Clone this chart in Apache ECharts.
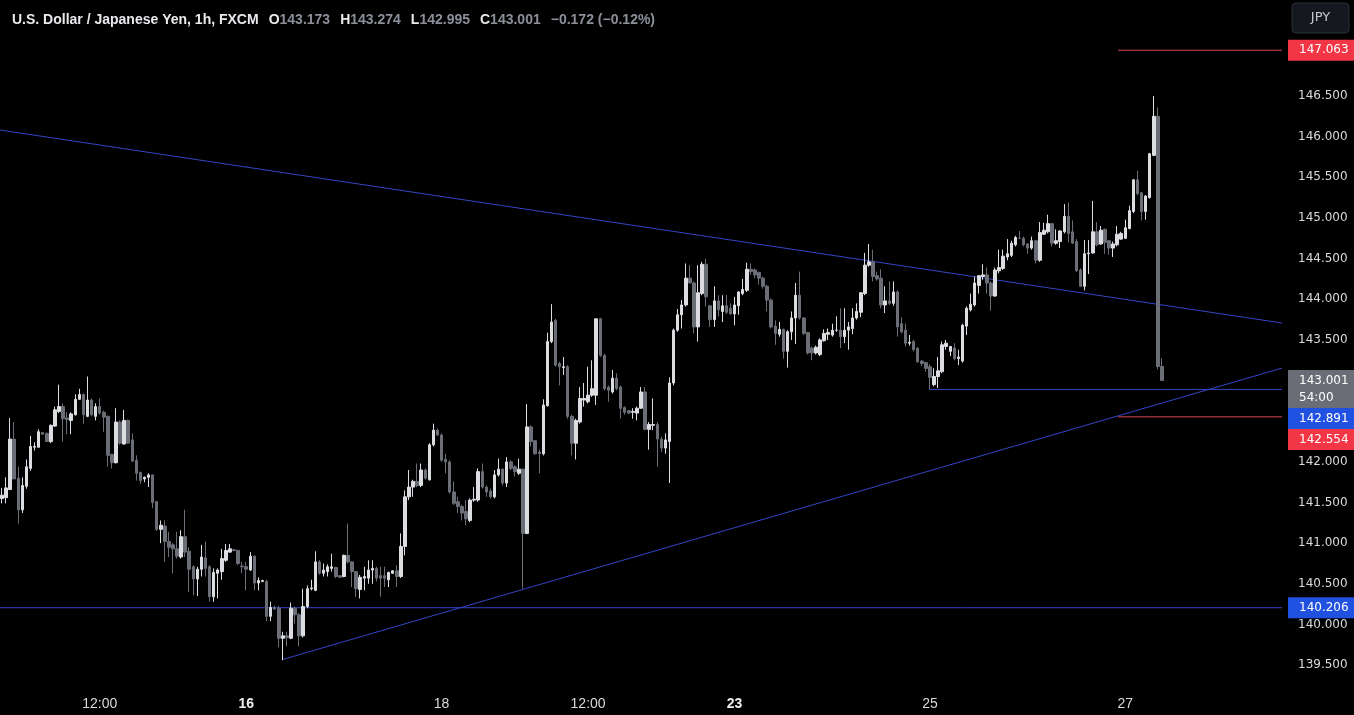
<!DOCTYPE html>
<html><head><meta charset="utf-8">
<script src="https://cdn.jsdelivr.net/npm/echarts@6/dist/echarts.min.js"></script>
<style>html,body{margin:0;padding:0;background:#000;}#c{width:1354px;height:715px;}</style>
</head><body><div id="c"></div>
<script>
// ---- data (USD/JPY, 1h, FXCM) ----
const opens = [141.55,141.56,141.66,142.28,141.80,141.41,141.70,141.92,142.18,142.18,142.36,142.35,142.25,142.44,142.62,142.68,142.54,142.51,142.58,142.77,142.83,142.56,142.76,142.56,142.68,142.61,142.56,142.09,141.99,142.49,142.22,142.51,142.27,142.02,141.87,141.79,141.81,141.84,141.51,141.17,141.21,141.02,140.98,140.93,140.83,141.08,140.90,140.71,140.56,140.68,140.82,140.71,140.34,140.63,140.65,140.79,140.89,140.92,140.91,140.72,140.71,140.67,140.84,140.51,140.53,140.53,140.10,140.21,140.20,139.83,139.86,139.83,140.20,140.12,139.86,140.22,140.44,140.42,140.77,140.63,140.65,140.69,140.70,140.60,140.59,140.85,140.77,140.65,140.43,140.57,140.57,140.67,140.69,140.60,140.60,140.55,140.63,140.66,140.59,140.96,141.57,141.69,141.76,141.71,141.90,141.78,142.21,142.39,142.33,142.03,142.00,141.63,141.51,141.45,141.39,141.28,141.53,141.53,141.88,141.69,141.64,141.57,141.84,141.91,141.74,142.00,141.94,141.86,141.91,141.12,142.43,142.26,142.12,142.10,142.69,143.48,143.74,143.21,143.16,143.17,142.56,142.23,142.49,142.76,142.74,142.82,142.82,143.76,143.31,142.92,142.86,143.03,142.92,142.67,142.63,142.61,142.60,142.66,142.86,142.40,142.45,142.46,142.28,142.17,142.25,142.97,143.62,143.81,143.93,144.26,144.20,143.66,144.07,144.43,143.92,143.75,143.98,143.85,143.92,143.89,143.82,143.92,144.07,144.11,144.37,144.36,144.33,144.26,144.16,143.99,143.67,143.57,143.63,143.36,143.60,143.77,144.05,143.77,143.59,143.40,143.34,143.32,143.49,143.57,143.56,143.62,143.62,143.54,143.62,143.64,143.77,143.84,144.07,144.42,144.46,144.29,144.26,143.93,143.98,143.95,144.09,143.70,143.62,143.46,143.48,143.40,143.24,143.22,143.17,142.95,143.05,143.11,143.42,143.36,143.40,143.27,143.24,143.67,143.87,143.93,144.17,144.28,144.30,144.20,144.04,144.35,144.38,144.52,144.54,144.67,144.75,144.75,144.68,144.63,144.72,144.48,144.80,144.83,144.93,144.69,144.71,144.83,145.02,144.83,144.71,144.36,144.16,144.56,144.57,144.83,144.68,144.86,144.72,144.63,144.67,144.74,144.75,144.87,145.08,145.47,145.31,145.08,145.25,145.77,146.25,143.173];
const highs = [141.68,141.81,142.54,142.49,141.94,141.81,142.03,142.32,142.24,142.40,142.37,142.36,142.46,142.68,142.95,142.72,142.61,142.61,142.83,142.90,142.84,143.05,142.78,142.72,142.78,142.63,142.57,142.10,142.66,142.51,142.64,142.52,142.35,142.08,141.88,141.82,141.86,141.84,141.52,141.28,141.28,141.14,141.00,141.14,141.16,141.41,140.95,140.73,140.71,140.98,141.02,140.73,140.69,140.69,140.93,140.99,140.99,140.93,140.92,140.77,140.77,140.89,140.85,140.58,140.55,140.55,140.28,140.23,140.23,139.91,139.91,140.27,140.22,140.14,140.44,140.48,140.55,140.90,140.79,140.75,140.74,140.87,140.71,140.61,140.86,141.24,140.78,140.66,140.61,140.71,140.79,140.79,140.71,140.71,140.71,140.65,140.67,140.73,141.12,141.65,141.90,141.78,141.98,141.98,141.92,142.23,142.47,142.41,142.35,142.10,142.02,141.76,141.57,141.47,141.53,141.55,141.69,141.92,141.98,141.71,141.67,141.90,142.04,141.92,142.06,142.02,141.96,142.04,141.92,142.71,142.45,142.27,142.15,142.77,143.59,143.94,143.76,143.23,143.29,143.19,142.58,142.53,142.92,142.97,143.17,143.25,143.76,143.77,143.33,142.94,143.13,143.09,142.94,142.68,142.64,142.66,142.68,142.92,142.92,142.49,142.78,142.49,142.31,142.35,143.04,143.64,143.88,143.99,144.44,144.42,144.22,144.42,144.46,144.50,143.93,144.16,144.05,144.05,144.05,143.95,144.03,144.10,144.25,144.45,144.44,144.38,144.34,144.28,144.18,144.01,143.74,143.72,143.64,143.62,143.85,144.20,144.34,143.78,143.60,143.42,143.43,143.52,143.63,143.64,143.70,143.79,143.89,143.89,143.72,143.89,143.95,144.09,144.57,144.68,144.61,144.34,144.37,144.16,144.22,144.22,144.11,143.78,143.70,143.56,143.50,143.41,143.25,143.23,143.20,143.15,143.29,143.48,143.50,143.42,143.46,143.38,143.70,143.91,144.07,144.28,144.30,144.43,144.39,144.22,144.39,144.61,144.61,144.74,144.72,144.78,144.84,144.77,144.69,144.77,144.73,144.95,144.94,145.04,144.94,144.86,144.85,145.17,145.19,144.97,144.74,144.38,144.73,144.73,145.21,144.95,144.90,144.87,144.73,144.71,144.90,144.83,144.98,145.15,145.47,145.58,145.32,145.28,145.80,146.50,146.36,143.274];
const lows = [141.49,141.49,141.66,141.79,141.24,141.37,141.67,141.89,142.14,142.18,142.33,142.25,142.23,142.43,142.60,142.25,142.34,142.34,142.57,142.76,142.47,142.55,142.56,142.51,142.58,142.37,141.94,141.92,141.98,142.21,142.21,142.22,142.00,141.77,141.73,141.75,141.69,141.43,141.15,141.00,140.77,140.83,140.63,140.81,140.81,140.83,140.40,140.36,140.35,140.59,140.59,140.28,140.28,140.32,140.55,140.77,140.88,140.90,140.73,140.63,140.42,140.66,140.42,140.42,140.52,140.04,140.04,140.18,139.72,139.56,139.73,139.82,140.01,139.73,139.84,140.20,140.42,140.41,140.61,140.59,140.59,140.65,140.57,140.57,140.58,140.75,140.46,140.34,140.32,140.42,140.50,140.50,140.53,140.34,140.46,140.46,140.62,140.46,140.57,140.85,141.53,141.57,141.69,141.69,141.78,141.77,142.19,142.32,142.00,141.86,141.61,141.47,141.37,141.28,141.22,141.26,141.51,141.51,141.67,141.57,141.55,141.55,141.82,141.71,141.69,141.90,141.82,141.84,140.44,141.11,142.19,142.09,141.86,142.08,142.68,143.46,143.17,142.94,143.07,142.53,142.08,142.03,142.47,142.68,142.72,142.80,142.70,143.29,142.88,142.74,142.84,142.88,142.53,142.58,142.59,142.53,142.51,142.65,142.39,142.15,142.39,141.94,142.12,142.10,141.74,142.94,143.60,143.64,143.91,144.20,143.58,143.48,144.05,143.91,143.66,143.66,143.79,143.72,143.82,143.81,143.68,143.81,144.05,144.09,144.30,144.26,144.18,144.13,143.85,143.64,143.44,143.54,143.27,143.16,143.50,143.45,143.75,143.56,143.32,143.25,143.32,143.30,143.48,143.50,143.54,143.60,143.40,143.46,143.38,143.57,143.75,143.78,144.05,144.40,144.22,144.23,143.89,143.83,143.93,143.92,143.54,143.58,143.42,143.43,143.36,143.22,143.18,143.11,142.89,142.93,142.91,143.09,143.38,143.30,143.25,143.19,143.22,143.56,143.85,143.91,144.07,144.24,144.07,143.86,144.03,144.32,144.36,144.48,144.52,144.65,144.74,144.65,144.56,144.61,144.44,144.46,144.79,144.81,144.65,144.67,144.63,144.81,144.70,144.68,144.34,144.15,144.11,144.31,144.56,144.65,144.67,144.56,144.55,144.52,144.65,144.73,144.74,144.86,145.06,145.28,144.97,144.98,145.24,145.76,143.14,142.995];
const closes = [141.59,141.68,142.28,141.79,141.41,141.71,141.94,142.19,142.19,142.37,142.34,142.25,142.45,142.64,142.68,142.53,142.52,142.59,142.77,142.83,142.58,142.76,142.58,142.68,142.60,142.55,142.08,141.99,142.49,142.23,142.51,142.23,142.01,141.86,141.77,141.81,141.84,141.50,141.17,141.22,141.02,140.95,140.93,140.84,141.08,140.89,140.68,140.56,140.68,140.83,140.69,140.34,140.64,140.67,140.81,140.91,140.93,140.91,140.75,140.71,140.68,140.84,140.51,140.54,140.54,140.10,140.21,140.19,139.83,139.86,139.84,140.20,140.12,139.86,140.22,140.44,140.45,140.77,140.63,140.67,140.71,140.71,140.59,140.58,140.85,140.77,140.65,140.44,140.58,140.59,140.67,140.69,140.57,140.57,140.57,140.64,140.66,140.59,140.96,141.57,141.69,141.76,141.71,141.90,141.80,142.21,142.39,142.33,142.02,142.00,141.63,141.49,141.45,141.37,141.30,141.53,141.54,141.88,141.69,141.63,141.57,141.84,141.91,141.74,142.00,141.92,141.88,141.91,141.12,142.43,142.25,142.10,142.10,142.70,143.48,143.72,143.19,143.17,143.17,142.56,142.23,142.51,142.78,142.78,142.82,142.90,143.76,143.31,142.90,142.88,143.03,142.90,142.66,142.61,142.60,142.62,142.66,142.86,142.40,142.46,142.46,142.28,142.17,142.27,142.97,143.62,143.81,143.93,144.26,144.20,143.66,144.08,144.43,144.03,143.75,143.98,143.87,143.92,143.84,143.82,143.93,144.09,144.12,144.37,144.34,144.30,144.26,144.16,143.99,143.66,143.58,143.63,143.36,143.60,143.77,144.05,143.77,143.58,143.34,143.34,143.41,143.50,143.58,143.59,143.62,143.62,143.54,143.62,143.66,143.77,143.85,144.08,144.42,144.46,144.28,144.25,143.93,143.98,143.95,144.09,143.66,143.60,143.46,143.47,143.38,143.23,143.21,143.15,143.04,143.05,143.12,143.44,143.46,143.42,143.27,143.29,143.68,143.89,143.94,144.20,144.29,144.30,144.20,144.04,144.36,144.39,144.53,144.56,144.69,144.76,144.75,144.67,144.63,144.72,144.48,144.82,144.85,144.93,144.69,144.72,144.84,145.02,144.81,144.69,144.35,144.16,144.56,144.57,144.83,144.67,144.85,144.70,144.63,144.68,144.80,144.81,144.88,145.09,145.47,145.30,145.08,145.27,145.79,146.25,143.173,143.001];

const firstBarUTC = Date.UTC(2024, 8, 11, 12);   // first visible hourly bar
const emptySlotsRight = 29;                       // blank space right of the last bar
const tickLabels = {
  '2024-09-12 12:00': '12:00', '2024-09-16 00:00': '16', '2024-09-18 00:00': '18',
  '2024-09-19 12:00': '12:00', '2024-09-23 00:00': '23', '2024-09-25 00:00': '25',
  '2024-09-27 00:00': '27'
};
const boldTickLabels = ['16', '23'];
const priceTicks = [139.5,140.0,140.5,141.0,141.5,142.0,142.5,143.0,143.5,144.0,144.5,145.0,145.5,146.0,146.5];
const priceMin = 139.231, priceMax = 147.681;

// drawings: [slot, price] endpoints
const trendDown = [[-0.5, 146.082], [314.5, 143.708]];
const trendUp = [[69, 139.57], [314.5, 143.154]];
const supportLow = [[-0.5, 140.206], [314.5, 140.206]];
const supportMid = [[228, 142.891], [314.5, 142.891]];
const targetHigh = [[274.2, 147.063], [314.5, 147.063]];
const targetLow = [[274.2, 142.554], [314.5, 142.554]];

const priceTags = [
  { value: 147.063, color: '#f23645' },
  { value: 143.001, color: '#6a6d76', sub: '54:00' },
  { value: 142.891, color: '#2151e0' },
  { value: 142.554, color: '#f23645' },
  { value: 140.206, color: '#2151e0' }
];
const symbolTitle = 'U.S. Dollar / Japanese Yen, 1h, FXCM';

// ---- build ----
function pad(n){ return (n < 10 ? '0' : '') + n; }
const totalSlots = opens.length + emptySlotsRight;
const categories = [];
for (let t = firstBarUTC; categories.length < totalSlots; t += 3600000) {
  const d = new Date(t), wd = d.getUTCDay(), h = d.getUTCHours();
  const closed = (wd === 5 && h >= 21) || wd === 6 || (wd === 0 && h < 21);
  if (closed) continue;
  categories.push(d.getUTCFullYear() + '-' + pad(d.getUTCMonth() + 1) + '-' + pad(d.getUTCDate()) + ' ' + pad(h) + ':00');
}
const candles = opens.map((o, i) => [o, closes[i], lows[i], highs[i]]);
const n = opens.length;
const lastO = opens[n-1], lastH = highs[n-1], lastL = lows[n-1], lastC = closes[n-1];
const chg = lastC - lastO;
const pct = chg / lastO * 100;
const sgn = v => (v < 0 ? '\u2212' : '+');

const UI = '"Liberation Sans", Arial, sans-serif';
const AX = '"DejaVu Sans", Verdana, sans-serif';

function lineSeries(data, color) {
  return { type: 'line', xAxisIndex: 1, yAxisIndex: 0, data: data, symbol: 'none', silent: true,
    animation: false, lineStyle: { color: color, width: 1 }, z: 3 };
}

const chart = echarts.init(document.getElementById('c'), null, { renderer: 'canvas' });
chart.setOption({
  backgroundColor: '#000000',
  animation: false,
  title: {
    left: 7, top: 6,
    text: '{t|' + symbolTitle + '}  {k|O}{v|' + lastO.toFixed(3) + '}  {k|H}{v|' + lastH.toFixed(3) + '}  {k|L}{v|' + lastL.toFixed(3) + '}  {k|C}{v|' + lastC.toFixed(3) + '}  {v|' + sgn(chg) + Math.abs(chg).toFixed(3) + ' (' + sgn(pct) + Math.abs(pct).toFixed(2) + '%)}',
    textStyle: { rich: {
      t: { color: '#e8e9ec', fontSize: 14, fontFamily: UI },
      k: { color: '#e8e9ec', fontSize: 14, fontFamily: UI },
      v: { color: '#8c8f99', fontSize: 14, fontFamily: UI }
    } }
  },
  grid: { left: 0, right: 72, top: 0, bottom: 28, containLabel: false },
  xAxis: [{
    type: 'category', data: categories, boundaryGap: true,
    axisLine: { show: false }, axisTick: { show: false }, splitLine: { show: false },
    axisLabel: {
      interval: (i, v) => tickLabels[v] !== undefined,
      formatter: v => { const s = tickLabels[v]; return boldTickLabels.indexOf(s) >= 0 ? '{b|' + s + '}' : s; },
      color: '#d8d9dd', fontSize: 14, fontFamily: UI, margin: 10,
      rich: { b: { fontWeight: 'bold', color: '#eeeeee', fontSize: 14, fontFamily: UI } }
    }
  }, {
    type: 'value', min: -0.5, max: totalSlots - 0.5, show: false
  }],
  yAxis: [{
    type: 'value', position: 'right', min: priceMin, max: priceMax, scale: true,
    axisLine: { show: false }, axisTick: { show: false }, splitLine: { show: false },
    axisLabel: { customValues: priceTicks, formatter: v => v.toFixed(3), color: '#d8d9dd',
      fontSize: 12, fontFamily: AX, margin: 16, align: 'left' }
  }],
  series: [
    lineSeries(trendDown, '#3446c4'),
    lineSeries(trendUp, '#3446c4'),
    lineSeries(supportLow, '#3446c4'),
    lineSeries(supportMid, '#3446c4'),
    lineSeries(targetHigh, '#d8424c'),
    lineSeries(targetLow, '#d8424c'),
    {
      type: 'candlestick', xAxisIndex: 0, yAxisIndex: 0, data: candles, barWidth: 3, z: 5,
      itemStyle: { color: '#dcdde1', color0: '#6b6e77', borderColor: '#dcdde1', borderColor0: '#6b6e77', borderWidth: 1 }
    }
  ]
});

// price tags on the right scale, stacked so they never overlap
const tags = [];
let prevBottom = -Infinity;
priceTags.forEach(p => {
  const y = chart.convertToPixel({ yAxisIndex: 0 }, p.value);
  const h = p.sub ? 38 : 21;
  let top = y - 10.5;
  if (top < prevBottom) top = prevBottom;
  prevBottom = top + h;
  tags.push({ type: 'rect', shape: { x: 1288, y: top, width: 66, height: h }, style: { fill: p.color }, z: 50 });
  tags.push({ type: 'text', x: 1299, y: top + 10.5, style: { text: p.value.toFixed(3), fill: '#ffffff', font: '12px ' + AX, textVerticalAlign: 'middle' }, z: 51 });
  if (p.sub) tags.push({ type: 'text', x: 1299, y: top + 28, style: { text: p.sub, fill: '#ffffff', font: '12px ' + AX, textVerticalAlign: 'middle' }, z: 51 });
});
tags.push({ type: 'rect', shape: { x: 1292, y: 3, width: 57, height: 30, r: 4 }, style: { fill: '#15181f', stroke: '#2a2e39', lineWidth: 1 }, z: 50 });
tags.push({ type: 'text', x: 1320.5, y: 18, style: { text: 'JPY', fill: '#c8cad0', font: '13px ' + AX, textAlign: 'center', textVerticalAlign: 'middle' }, z: 51 });
chart.setOption({ graphic: tags });
</script>
</body></html>
